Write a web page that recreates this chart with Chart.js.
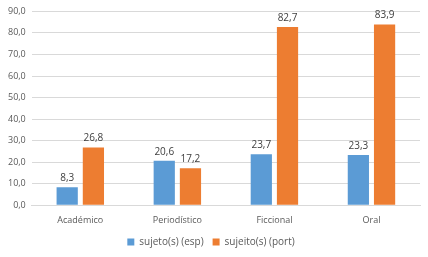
<!DOCTYPE html>
<html>
<head>
<meta charset="utf-8">
<script src="https://cdn.jsdelivr.net/npm/chart.js@4/dist/chart.umd.min.js"></script>
<style>
  html, body { margin: 0; padding: 0; background: #fff; }
  #wrap { width: 428px; height: 257px; }
</style>
</head>
<body>
<div id="wrap"><canvas id="myChart" width="428" height="257"></canvas></div>
<script>
// data
const categories = ['Académico', 'Periodístico', 'Ficcional', 'Oral'];
const esp = [8.3, 20.6, 23.7, 23.3];
const port = [26.8, 17.2, 82.7, 83.9];
const seriesNames = ['sujeto(s) (esp)', 'sujeito(s) (port)'];
const yTicks = [0, 10, 20, 30, 40, 50, 60, 70, 80, 90];

const fmt = v => v.toFixed(1).replace('.', ',');

// draw value labels above the bars
const valueLabels = {
  id: 'valueLabels',
  afterDatasetsDraw(chart) {
    const c = chart.ctx;
    c.save();
    c.font = '10px "Open Sans", sans-serif';
    c.fillStyle = '#404040';
    c.textAlign = 'center';
    c.textBaseline = 'bottom';
    chart.data.datasets.forEach((ds, i) => {
      chart.getDatasetMeta(i).data.forEach((bar, j) => {
        c.fillText(fmt(ds.data[j]), bar.x, bar.y - 4);
      });
    });
    c.restore();
  }
};

const chart = new Chart(document.getElementById('myChart'), {
  type: 'bar',
  data: {
    labels: categories,
    datasets: [
      { label: seriesNames[0], data: esp, backgroundColor: '#5B9BD5', barPercentage: 0.81, categoryPercentage: 0.54 },
      { label: seriesNames[1], data: port, backgroundColor: '#ED7D31', barPercentage: 0.81, categoryPercentage: 0.54 }
    ]
  },
  options: {
    responsive: false,
    animation: false,
    layout: { padding: { top: 10, right: 8, left: 2, bottom: 0 } },
    plugins: {
      legend: {
        position: 'bottom',
        labels: {
          boxWidth: 7, boxHeight: 7, padding: 9,
          color: '#595959',
          font: { size: 10, family: '"Open Sans", sans-serif' }
        }
      },
      tooltip: { enabled: false }
    },
    scales: {
      y: {
        min: 0, max: 90,
        afterBuildTicks: axis => { axis.ticks = yTicks.map(v => ({ value: v })); },
        ticks: {
          callback: v => fmt(v),
          color: '#595959',
          font: { size: 9, family: '"Open Sans", sans-serif' },
          padding: 6
        },
        grid: { color: '#d9d9d9', drawTicks: false },
        border: { display: false }
      },
      x: {
        ticks: {
          color: '#595959',
          font: { size: 9, family: '"Open Sans", sans-serif' },
          padding: 2
        },
        grid: { display: false },
        border: { color: '#d9d9d9' }
      }
    }
  },
  plugins: [valueLabels]
});
</script>
</body>
</html>
